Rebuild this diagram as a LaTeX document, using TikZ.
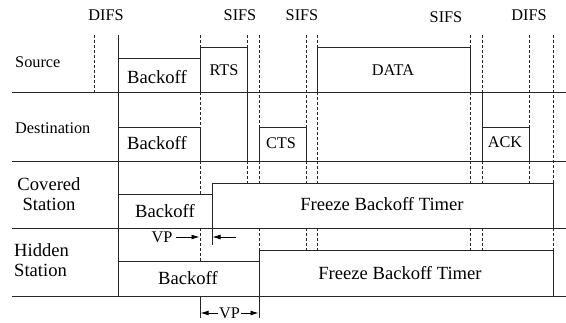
\documentclass[tikz,border=0pt]{standalone}
\usepackage{fontspec}
\setmainfont{Liberation Serif}
\usetikzlibrary{arrows.meta}
\begin{document}
\begin{tikzpicture}[x=1pt,y=-1pt,
  ln/.style={line width=0.9pt,black!85},
  dl/.style={line width=0.9pt,black!85,dash pattern=on 3pt off 2pt},
  sm/.style={font=\fontsize{16.3}{18}\selectfont,inner sep=0pt},
  lg/.style={font=\fontsize{18.6}{20.5}\selectfont,inner sep=0pt},
  arr/.style={line width=0.9pt,-{Latex[length=8pt,width=5pt]}}]
\useasboundingbox (0,0) rectangle (566,322);
% baselines
\foreach \yy in {92,161,228,296} \draw[ln] (12,\yy) -- (566,\yy);
% top labels
\node[sm] (difs1) at (106,15) {DIFS};
\node[sm] (sifs1) at (240,15) {SIFS};
\node[sm] (sifs2) at (302,15) {SIFS};
\node[sm] (sifs3) at (446,17) {SIFS};
\node[sm] (difs2) at (529,15) {DIFS};
% row labels
\node[sm,anchor=west] (src) at (15,62) {Source};
\node[sm,anchor=west] (dst) at (15,128) {Destination};
\node[lg,align=center] (cov) at (49,194) {Covered\\Station};
\node[lg,align=left,anchor=west] (hid) at (14,260) {Hidden\\Station};
% main solid vertical
\draw[ln] (118,35) -- (118,296);
\draw[dl] (94,35) -- (94,92);
% dashed top extensions
\draw[dl] (200,35) -- (200,47);
\draw[dl] (247,35) -- (247,47);
\draw[dl] (259,35) -- (259,127);
\draw[dl] (306,35) -- (306,127);
\draw[dl] (317,35) -- (317,47);
\draw[dl] (470,35) -- (470,47);
\draw[dl] (482,35) -- (482,92);
\draw[dl] (529,35) -- (529,127);
\draw[dl] (553,35) -- (553,183);
% Source
\draw[ln] (118,58) -- (200,58);
\draw[ln] (200,92) -- (200,47) -- (247,47) -- (247,161);
\draw[ln] (317,92) -- (317,47) -- (470,47) -- (470,92);
\node[lg] (bs) at (157,77) {Backoff};
\node[sm] (rts) at (224,70) {RTS};
\node[sm] (data) at (393,70) {DATA};
% Destination
\draw[dl] (200,92) -- (200,127);
\draw[ln] (118,127) -- (200,127) -- (200,161);
\draw[ln] (259,161) -- (259,127) -- (306,127) -- (306,161);
\draw[dl] (317,92) -- (317,161);
\draw[dl] (470,92) -- (470,161);
\draw[ln] (482,92) -- (482,161);
\draw[ln] (482,127) -- (529,127) -- (529,161);
\node[lg] (bd) at (157,143) {Backoff};
\node[sm] (cts) at (281,143) {CTS};
\node[sm] (ack) at (505,142) {ACK};
% Covered
\draw[dl] (200,161) -- (200,194);
\foreach \xx in {247,259,306,317,470,482,529} \draw[dl] (\xx,161) -- (\xx,183);
\draw[ln] (118,194) -- (212,194) -- (212,183) -- (553,183) -- (553,228);
\draw[ln] (212,194) -- (212,245);
\node[lg] (bc) at (165,211) {Backoff};
\node[lg] (fc) at (382,204) {Freeze Backoff Timer};
% Hidden
\draw[dl] (200,228) -- (200,261);
\foreach \xx in {259,306,317,470,482,553} \draw[dl] (\xx,228) -- (\xx,250);
\draw[ln] (118,261) -- (259,261) -- (259,250) -- (553,250) -- (553,296);
\draw[ln] (259,250) -- (259,318);
\draw[ln] (200,296) -- (200,318);
\node[lg] (bh) at (188,278) {Backoff};
\node[lg] (fh) at (400,273) {Freeze Backoff Timer};
% VP arrows
\node[sm] (vp1) at (162,237) {VP};
\coordinate (a1s) at (176,237);
\coordinate (a1e) at (199.5,237);
\draw[arr] (a1s) -- (a1e);
\coordinate (a2s) at (236,237);
\coordinate (a2e) at (212.5,237);
\draw[arr] (a2s) -- (a2e);
\node[sm,fill=white,inner xsep=1pt,inner ysep=0pt] (vp2) at (229.5,313) {VP};
\coordinate (b1) at (200.5,313);
\coordinate (b2) at (258.5,313);
\draw[arr] (vp2.west |- b1) -- (b1);
\draw[arr] (vp2.east |- b2) -- (b2);
\end{tikzpicture}
\end{document}
